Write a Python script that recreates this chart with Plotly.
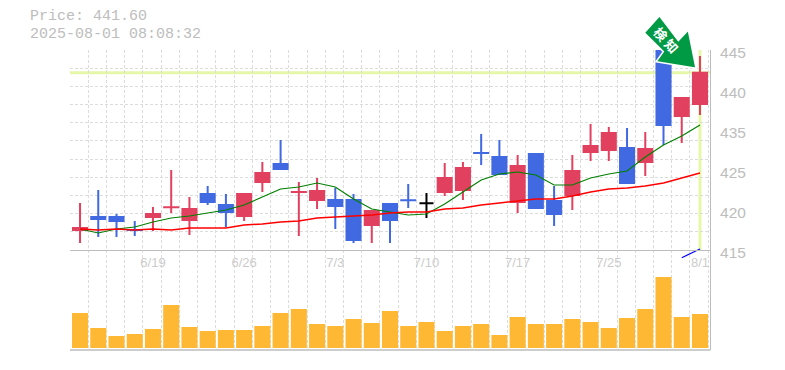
import plotly.graph_objects as go

# ---- data ----
dates = ["6/13","6/16","6/17","6/18","6/19","6/20","6/23","6/24","6/25","6/26","6/27","6/30",
         "7/1","7/2","7/3","7/4","7/7","7/8","7/9","7/10","7/11","7/14","7/15","7/16","7/17",
         "7/18","7/22","7/23","7/24","7/25","7/28","7/29","7/30","7/31","8/1"]
opens = [418.0,419.95,419.95,418.01,419.95,421.4,419.5,423.4,421.75,420.1,425.2,427.9,
         423.7,422.5,422.5,422.5,418.75,421.9,422.46,422.0,423.7,424.0,429.56,428.95,422.2,
         429.4,422.35,423.25,429.7,430.0,430.3,428.2,445.15,435.1,436.9]
closes = [418.3,419.65,419.35,418.0,420.4,421.41,421.15,422.2,420.7,423.4,426.55,427.15,
          423.71,423.85,421.6,416.5,420.85,419.5,422.45,422.0,425.8,427.3,429.55,426.4,427.6,
          421.3,420.4,426.85,430.6,432.55,425.05,430.15,433.75,437.8,441.6]
highs = [422.05,424.0,420.4,419.35,421.45,427.0,422.95,424.6,423.4,423.55,428.2,431.5,
         425.2,425.8,424.3,423.4,421.0,422.05,424.9,423.55,428.05,428.2,432.4,431.5,429.25,
         429.55,424.6,429.25,433.9,433.45,433.3,432.7,445.3,437.95,444.1]
lows = [416.05,416.95,416.95,417.1,417.85,420.55,417.25,421.75,418.45,419.35,423.7,427.0,
        417.1,421.15,418.15,416.05,416.05,416.05,421.3,419.8,423.1,422.5,427.75,426.25,420.55,
        421.15,418.6,421.0,428.35,428.35,424.9,426.1,430.75,431.05,435.25]
ma_short = [418.15,417.55,418.15,418.45,419.2,419.8,420.1,420.55,421.0,421.75,422.95,424.15,
            424.45,425.05,424.45,422.65,421.15,420.7,420.25,420.4,421.9,423.7,425.5,426.4,426.7,
            426.25,424.75,424.75,425.8,426.4,426.85,428.95,430.75,432.1,433.75]
ma_long = [418.15,418.0,418.15,418.0,418.15,418.0,418.3,418.3,418.3,418.75,418.9,419.2,
           419.35,419.8,419.95,420.1,420.25,420.55,420.7,420.7,421.15,421.3,421.75,422.05,422.35,
           422.65,422.65,423.1,423.7,424.15,424.3,424.6,425.05,425.8,426.55]
ma_extra_x = [33, 34]
ma_extra = [413.85, 415.15]
volumes = [35,20,12,14,19,43,21,17,18,18,22,35,39,24,22,29,25,37,22,26,17,22,24,13,31,
           24,24,29,26,20,30,39,71,31,34]
black_doji = [19]
x_tick_index = [4, 9, 14, 19, 24, 29, 34]
y_tick_labels = ["445", "440", "435", "425", "420", "415"]
y_tick_values = [444.55, 438.55, 432.55, 426.55, 420.55, 414.55]
current_price = 441.60
stamp = "2025-08-01 08:08:32"

x = list(range(len(dates)))
RED, BLUE = "#e2405f", "#4169e1"
GRID = "#dcdcdc"
AXIS = "#bdbdbd"
W, H = 785, 370
L, R, T, B = 70, 710, 50, 350
PAGE = 8  # default body margin of the written page

def px(a):
    return (a - L) / (R - L)
def py(b):
    return (B - b) / (B - T)

def mask(vals, keep):
    return [v if keep(i) else None for i, v in enumerate(vals)]

fig = go.Figure()
fig.add_trace(go.Bar(x=x, y=volumes, yaxis="y2", marker=dict(color="#ffb833", line_width=0), showlegend=False))
fig.add_trace(go.Scatter(x=x, y=ma_short, mode="lines", line=dict(color="#008000", width=1.2), showlegend=False))
fig.add_trace(go.Scatter(x=x, y=ma_long, mode="lines", line=dict(color="#ff0000", width=1.5), showlegend=False))
fig.add_trace(go.Scatter(x=ma_extra_x, y=ma_extra, mode="lines", line=dict(color="#0000ff", width=1.2),
                         cliponaxis=False, showlegend=False))
not_black = lambda i: i not in black_doji
is_black = lambda i: i in black_doji
fig.add_trace(go.Candlestick(
    x=x, open=mask(opens, not_black), high=mask(highs, not_black), low=mask(lows, not_black),
    close=mask(closes, not_black), whiskerwidth=0,
    increasing=dict(line=dict(color=RED, width=2), fillcolor=RED),
    decreasing=dict(line=dict(color=BLUE, width=2), fillcolor=BLUE),
    showlegend=False))
fig.add_trace(go.Candlestick(
    x=x, open=mask(opens, is_black), high=mask(highs, is_black), low=mask(lows, is_black),
    close=[c + 0.001 if is_black(i) else None for i, c in enumerate(closes)], whiskerwidth=0,
    increasing=dict(line=dict(color="#000000", width=2), fillcolor="#000000"),
    decreasing=dict(line=dict(color="#000000", width=2), fillcolor="#000000"),
    showlegend=False))

arrow = [(659.5, 15.7), (644.3, 32.7), (663.3, 51.7), (656, 61.7), (696, 68.3), (688.3, 30), (678.3, 40.7)]
arrow_path = "M " + " L ".join(f"{px(a):.5f},{py(b):.5f}" for a, b in arrow) + " Z"

shapes = [
    dict(type="line", xref="x", yref="y", x0=-0.55, x1=34.55, y0=current_price, y1=current_price,
         line=dict(color="#e6f7a8", width=3), layer="below"),
    dict(type="line", xref="x", yref="y", x0=34, x1=34, y0=415, y1=445,
         line=dict(color="#e6f7a8", width=3), layer="below"),
    dict(type="line", xref="paper", yref="paper", x0=0, x1=1, y0=0, y1=0,
         line=dict(color=AXIS, width=1.5), layer="above"),
    dict(type="path", xref="paper", yref="paper", path=arrow_path, fillcolor="#009944",
         line=dict(color="#ffffff", width=1.5), layer="above"),
]

ann_font = dict(family="Liberation Mono", size=15, color="#bdbdbd")
annotations = [
    dict(xref="paper", yref="paper", x=px(28), y=py(17), xanchor="left", yanchor="middle", showarrow=False,
         text=f"Price: {current_price:.2f}", font=ann_font),
    dict(xref="paper", yref="paper", x=px(28), y=py(34), xanchor="left", yanchor="middle", showarrow=False,
         text=stamp, font=ann_font),
    dict(xref="paper", yref="paper", x=px(666), y=py(39.5), xanchor="center", yanchor="middle", showarrow=False,
         text="検 知", textangle=48, font=dict(family="Noto Sans CJK JP", size=13, color="#ffffff", weight="bold")),
]

fig.update_layout(
    width=W - PAGE, height=H - PAGE, autosize=False,
    margin=dict(l=L - PAGE, r=W - R, t=T - PAGE, b=H - B, pad=0),
    paper_bgcolor="#ffffff", plot_bgcolor="#ffffff",
    showlegend=False, bargap=0.12, boxgap=0.23, boxgroupgap=0, boxmode="overlay",
    shapes=shapes, annotations=annotations,
    xaxis=dict(
        range=[-0.55, 34.55], anchor="free", position=1 / 3, showgrid=False, zeroline=False,
        showline=True, linecolor=AXIS, linewidth=1,
        rangeslider=dict(visible=False),
        tickmode="array", tickvals=x_tick_index, ticktext=[dates[i] for i in x_tick_index],
        ticks="", tickfont=dict(family="Liberation Sans", size=13, color="#cccccc"),
        minor=dict(tickmode="array", tickvals=[i - 0.55 for i in range(36)], showgrid=True,
                   gridcolor=GRID, griddash="3px,2px", gridwidth=1, ticks=""),
    ),
    yaxis=dict(
        range=[400, 445], side="right", showgrid=False, zeroline=False,
        showline=True, linecolor=AXIS, linewidth=1,
        tickmode="array", tickvals=y_tick_values, ticktext=y_tick_labels,
        ticks="outside", ticklen=6, tickcolor="#ffffff",
        tickfont=dict(family="Liberation Sans", size=15.5, color="#bdbdbd"),
        minor=dict(tickmode="array", tickvals=[445 - k * 30 / 11 for k in range(11)], showgrid=True,
                   gridcolor=GRID, griddash="3px,2px", gridwidth=1, ticks=""),
    ),
    yaxis2=dict(range=[-2, 298], overlaying="y", side="right", visible=False),
)

fig.write_html("out.html")
